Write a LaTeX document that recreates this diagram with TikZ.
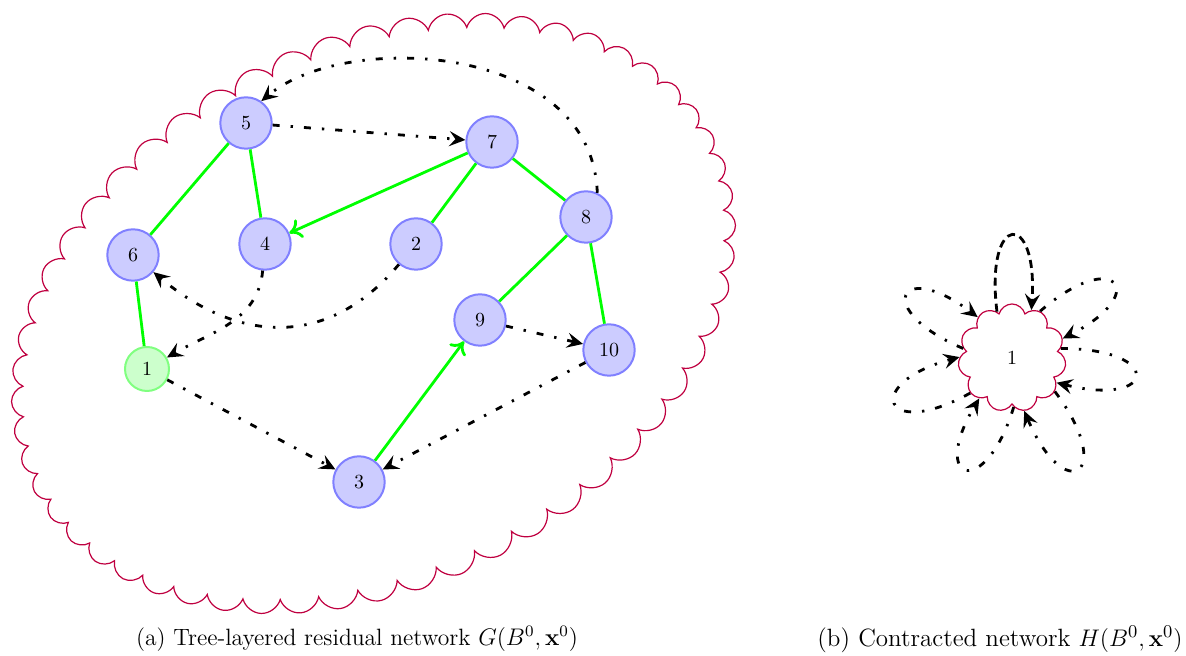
\documentclass[tikz,border=0pt]{standalone}
\usetikzlibrary{shapes.symbols,arrows.meta}
\begin{document}
\begin{tikzpicture}[x=0.5pt,y=0.5pt,
  vtx/.style={circle,draw=blue!50,fill=blue!20,line width=1pt,minimum size=25.7pt,inner sep=0pt},
  root/.style={circle,draw=green!50,fill=green!20,line width=1pt,minimum size=22pt,inner sep=0pt},
  tree/.style={draw=green,line width=1.4pt},
  treearr/.style={tree,-{To[length=6pt,width=10pt]}},
  res/.style={draw=black,line width=1.4pt,dash pattern=on 3.5pt off 5.5pt on 1.2pt off 5.5pt,-{Stealth[length=8pt,width=7.5pt,inset=3pt]}},
  resdash/.style={draw=black,line width=1.4pt,dash pattern=on 4pt off 2.5pt,-{Stealth[length=8pt,width=7.5pt,inset=3pt]}},
  blob/.style={cloud,draw=purple,line width=0.6pt,cloud ignores aspect,inner sep=0pt},
  captext/.style={font=\fontsize{11.8}{14}\selectfont},
  captextb/.style={font=\fontsize{12.5}{15}\selectfont}
]
\useasboundingbox (0,0) rectangle (1186,656);
% (a)
\node[blob,cloud puffs=56,minimum width=383pt,minimum height=273pt,rotate=27.7] (G) at (373.5,342.5) {};
\node[vtx] (n5) at (246,533) {5};
\node[vtx] (n6) at (133,401) {6};
\node[vtx] (n4) at (265,412) {4};
\node[root] (n1) at (147,287) {1};
\node[vtx] (n7) at (492,514) {7};
\node[vtx] (n8) at (586,439) {8};
\node[vtx] (n2) at (416,412) {2};
\node[vtx] (n9) at (480,336) {9};
\node[vtx] (n10) at (609,306) {10};
\node[vtx] (n3) at (359,174) {3};
% tree edges
\draw[tree] (n5) -- (n6);
\draw[tree] (n5) -- (n4);
\draw[treearr] (n7) -- (n4);
\draw[tree] (n7) -- (n2);
\draw[tree] (n7) -- (n8);
\draw[tree] (n8) -- (n9);
\draw[tree] (n8) -- (n10);
\draw[tree] (n6) -- (n1);
\draw[treearr] (n3) -- (n9);
% residual edges
\draw[res] (n5) -- (n7);
\draw[res] (n8.65) .. controls +(92:75pt) and +(40:55pt) .. (n5.55);
\draw[res] (n4) to[out=-95,in=30] (n1);
\draw[res] (n2) to[out=-130,in=-40,looseness=1.15] (n6);
\draw[res] (n1) -- (n3);
\draw[res] (n10) -- (n3);
\draw[res] (n9) -- (n10);
% (b)
\node[blob,cloud puffs=11,minimum width=54pt,minimum height=54pt] (H) at (1012,298) {1};
\draw[resdash] (H.108) .. controls +(97:50.5pt) and +(86:50.5pt) .. (H.68);
\draw[res] (H.59) .. controls +(41:50pt) and +(27:50pt) .. (H.21);
\draw[res] (H.11) .. controls +(0:52pt) and +(-14:52pt) .. (H.-29);
\draw[res] (H.-38) .. controls +(-53:52pt) and +(-67:52pt) .. (H.-77);
\draw[res] (H.-88) .. controls +(-107:49pt) and +(-121:49pt) .. (H.-129);
\draw[res] (H.-140) .. controls +(209:50.5pt) and +(195:50.5pt) .. (H.179);
\draw[res] (H.169) .. controls +(157:49.5pt) and +(143:49.5pt) .. (H.130);
% captions
\node[captext] (capa) at (357,17) {(a) Tree-layered residual network $G(B^0,\mathbf{x}^0)$};
\node[captextb] (capb) at (1000,17) {(b) Contracted network $H(B^0,\mathbf{x}^0)$};
\end{tikzpicture}
\end{document}
